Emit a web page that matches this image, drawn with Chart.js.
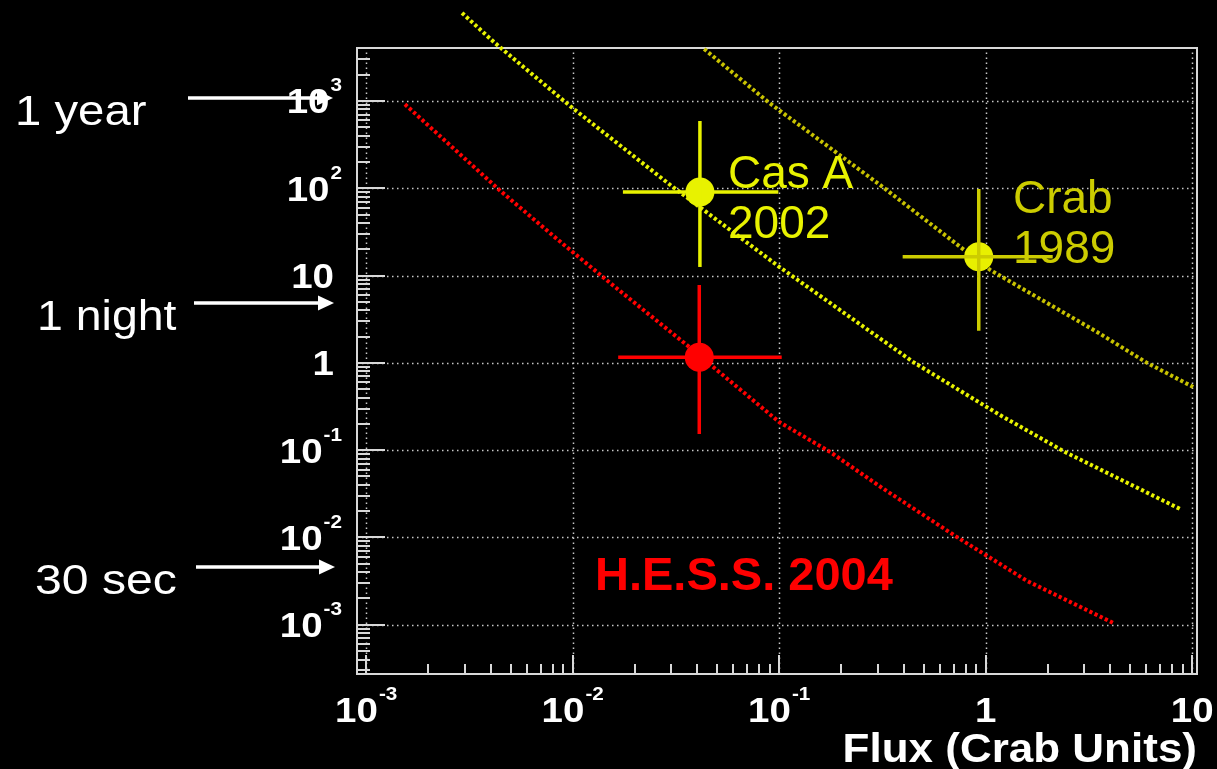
<!DOCTYPE html>
<html>
<head>
<meta charset="utf-8">
<script src="https://cdn.jsdelivr.net/npm/chart.js@4.4.1/dist/chart.umd.min.js"></script>
<style>
html,body{margin:0;padding:0;background:#000;overflow:hidden;}
canvas{display:block;}
</style>
</head>
<body>
<canvas id="sens" width="1217" height="769"></canvas>
<script>
/* ── sensitivity curves: flux (Crab units) vs observation time ── */
var hessFlux  = [0.00154, 0.00445, 0.0084, 0.0152, 0.0357, 0.1, 0.177, 0.315, 0.726, 1.585, 4.14];
var hessTime  = [917, 94, 26.2, 8.2, 1.6, 0.21, 0.095, 0.0369, 0.0101, 0.00318, 0.00105];

var casFlux   = [0.00291, 0.0042, 0.0097, 0.0297, 0.1, 0.446, 1.17, 2.42, 8.73];
var casTime   = [10200, 4620, 877, 109, 12.6, 1.02, 0.253, 0.0953, 0.0212];

var crabFlux  = [0.0433, 0.0883, 0.318, 1.05, 3.46, 6.04, 10.1];
var crabTime  = [3940, 975, 103, 11.6, 2.26, 1.0, 0.53];

/* ── measured sources (centre + error bar ends) ── */
var srcNames  = ['Cas A 2002', 'Crab 1989', 'H.E.S.S. 2004'];
var srcFlux   = [0.0413, 0.925, 0.041];
var srcFluxLo = [0.0175, 0.396, 0.0166];
var srcFluxHi = [0.099, 2.11, 0.1028];
var srcTime   = [90.7, 16.46, 1.16];
var srcTimeLo = [12.55, 2.34, 0.153];
var srcTimeHi = [590, 98.2, 7.8];

/* ── axes ── */
var xDecades = [-3, -2, -1, 0, 1];
var xTickLabels = [['10','-3'], ['10','-2'], ['10','-1'], ['1',''], ['10','']];
var yDecades = [-3, -2, -1, 0, 1, 2, 3];
var yTickLabels = [['10','-3'], ['10','-2'], ['10','-1'], ['1',''], ['10',''], ['10','2'], ['10','3']];
var xTitle = 'Flux (Crab Units)';

/* ── time marks on the left ── */
var markNames = ['1 year', '1 night', '30 sec'];
var markTime  = [1083, 4.85, 0.0046];

/* ── colours ── */
var C = { red:'#ff0000', cas:'#e8f200', crab:'#cccc00', crabLine:'#c8c200', crabDot:'#e8f000', white:'#ffffff', grid:'#c8c8c8', frame:'#d8d8d8' };
var FONT = '"Liberation Sans", Arial, Helvetica, sans-serif';

function pts(xs, ys){ return xs.map(function(v,i){ return {x:v, y:ys[i]}; }); }

function txt(ctx, s, x, y, font, color, align, sx){
    ctx.save();
    ctx.font = font; ctx.fillStyle = color; ctx.textBaseline = 'alphabetic'; ctx.textAlign = 'left';
    var w = ctx.measureText(s).width * sx;
    var x0 = align === 'right' ? x - w : (align === 'center' ? x - w/2 : x);
    ctx.translate(x0, y); ctx.scale(sx, 1); ctx.fillText(s, 0, 0);
    ctx.restore();
    return w;
}
function powWidth(ctx, lab){
    ctx.font = 'bold 35px ' + FONT;
    var w = ctx.measureText(lab[0]).width * 1.1;
    if (lab[1]) { ctx.font = 'bold 18px ' + FONT; w += 1 + ctx.measureText(lab[1]).width * 1.15; }
    return w;
}
function powLabel(ctx, lab, x0, base){
    var w = txt(ctx, lab[0], x0, base, 'bold 35px ' + FONT, C.white, 'left', 1.1);
    if (lab[1]) txt(ctx, lab[1], x0 + w + 1, base - 22, 'bold 18px ' + FONT, C.white, 'left', 1.15);
}
function seg(ctx, x1, y1, x2, y2){ ctx.beginPath(); ctx.moveTo(x1, y1); ctx.lineTo(x2, y2); ctx.stroke(); }

var frame = {
    id: 'frame',
    beforeDraw: function(chart){
        var ctx = chart.ctx;
        ctx.save(); ctx.fillStyle = '#000'; ctx.fillRect(0, 0, chart.width, chart.height); ctx.restore();
    },
    beforeDatasetsDraw: function(chart){
        var ctx = chart.ctx, a = chart.chartArea, x = chart.scales.x, y = chart.scales.y;
        ctx.save();
        // dotted grid at decades
        ctx.strokeStyle = C.grid; ctx.lineWidth = 1.5; ctx.setLineDash([1.5, 3.5]);
        xDecades.forEach(function(e){ var p = Math.round(x.getPixelForValue(Math.pow(10, e))) + 0.5; seg(ctx, p, a.bottom, p, a.top); });
        yDecades.forEach(function(e){ var p = Math.round(y.getPixelForValue(Math.pow(10, e))) + 0.5; seg(ctx, a.left, p, a.right, p); });
        ctx.setLineDash([]);
        // tick marks, inside the frame
        ctx.strokeStyle = C.frame; ctx.lineWidth = 2;
        var e, k, v, p;
        for (e = -4; e <= 1; e++) for (k = 1; k <= 9; k++) {
            v = k * Math.pow(10, e);
            if (v < x.min || v > x.max) continue;
            p = Math.round(x.getPixelForValue(v));
            seg(ctx, p, a.bottom, p, a.bottom - (k === 1 ? 19 : 10));
        }
        for (e = -4; e <= 3; e++) for (k = 1; k <= 9; k++) {
            v = k * Math.pow(10, e);
            if (v < y.min || v > y.max) continue;
            p = Math.round(y.getPixelForValue(v));
            seg(ctx, a.left, p, a.left + (k === 1 ? 28 : 13), p);
        }
        ctx.strokeRect(a.left, a.top, a.right - a.left, a.bottom - a.top);
        ctx.restore();
    },
    afterDatasetsDraw: function(chart){
        var ctx = chart.ctx, x = chart.scales.x, y = chart.scales.y;
        var barCol = [C.cas, C.crab, C.red];
        ctx.save(); ctx.lineWidth = 3.5;
        srcNames.forEach(function(n, i){
            ctx.strokeStyle = barCol[i];
            var px = x.getPixelForValue(srcFlux[i]), py = y.getPixelForValue(srcTime[i]);
            seg(ctx, x.getPixelForValue(srcFluxLo[i]), py, x.getPixelForValue(srcFluxHi[i]), py);
            seg(ctx, px, y.getPixelForValue(srcTimeLo[i]), px, y.getPixelForValue(srcTimeHi[i]));
        });
        ctx.restore();
    },
    afterDraw: function(chart){
        var ctx = chart.ctx, a = chart.chartArea, x = chart.scales.x, y = chart.scales.y;
        // axis labels
        xDecades.forEach(function(e, i){
            var p = x.getPixelForValue(Math.pow(10, e));
            var w = powWidth(ctx, xTickLabels[i]);
            powLabel(ctx, xTickLabels[i], p - w/2, 722);
        });
        yDecades.forEach(function(e, i){
            var p = y.getPixelForValue(Math.pow(10, e));
            var lab = yTickLabels[i];
            var w = powWidth(ctx, lab);
            powLabel(ctx, lab, (lab[1] ? 342 : 334) - w, p + 12.5);
        });
        txt(ctx, xTitle, a.right, 762, 'bold 40px ' + FONT, C.white, 'right', 1.1);

        // observation time marks
        var markX = [[188, 333], [194, 334], [196, 335]];
        var markTx = [[15, 1.1], [37, 1.08], [35, 1.12]];
        ctx.save();
        ctx.strokeStyle = C.white; ctx.fillStyle = C.white; ctx.lineWidth = 3.5;
        markNames.forEach(function(n, i){
            var py = Math.round(y.getPixelForValue(markTime[i]));
            seg(ctx, markX[i][0], py, markX[i][1] - 12, py);
            ctx.beginPath();
            ctx.moveTo(markX[i][1], py); ctx.lineTo(markX[i][1] - 16, py - 7.5); ctx.lineTo(markX[i][1] - 16, py + 7.5);
            ctx.closePath(); ctx.fill();
            txt(ctx, n, markTx[i][0], py + 27, '43px ' + FONT, C.white, 'left', markTx[i][1]);
        });
        ctx.restore();

        // source labels
        txt(ctx, 'Cas A', 728, 188, '46px ' + FONT, C.cas, 'left', 1.0);
        txt(ctx, '2002', 728, 238, '46px ' + FONT, C.cas, 'left', 1.0);
        txt(ctx, 'Crab', 1013, 213, '46px ' + FONT, C.crab, 'left', 1.0);
        txt(ctx, '1989', 1013, 263, '46px ' + FONT, C.crab, 'left', 1.0);
        txt(ctx, 'H.E.S.S. 2004', 595, 590, 'bold 47px ' + FONT, C.red, 'left', 1.0);
    }
};

var curve = function(data, color){
    return { data:data, showLine:true, borderColor:color, borderWidth:4, borderDash:[3.2, 2.5],
             pointRadius:0, fill:false, tension:0, clip:false };
};

new Chart(document.getElementById('sens'), {
    type: 'scatter',
    data: { datasets: [
        { data: pts(srcFlux, srcTime), showLine:false, pointRadius:14.5, pointBorderWidth:0,
          pointBackgroundColor:[C.cas, C.crabDot, C.red], pointBorderColor:[C.cas, C.crabDot, C.red], clip:false },
        curve(pts(hessFlux, hessTime), C.red),
        curve(pts(casFlux, casTime), C.cas),
        curve(pts(crabFlux, crabTime), C.crabLine)
    ]},
    options: {
        responsive:false, animation:false, devicePixelRatio:1,
        layout: { padding: { left:357, right:20, top:48, bottom:95 } },
        plugins: { legend:{display:false}, tooltip:{enabled:false} },
        events: [],
        scales: {
            x: { type:'logarithmic', display:false, min:Math.pow(10, -3.0446), max:Math.pow(10, 1.023) },
            y: { type:'logarithmic', display:false, min:Math.pow(10, -3.564), max:Math.pow(10, 3.607) }
        }
    },
    plugins: [frame]
});
</script>
</body>
</html>
